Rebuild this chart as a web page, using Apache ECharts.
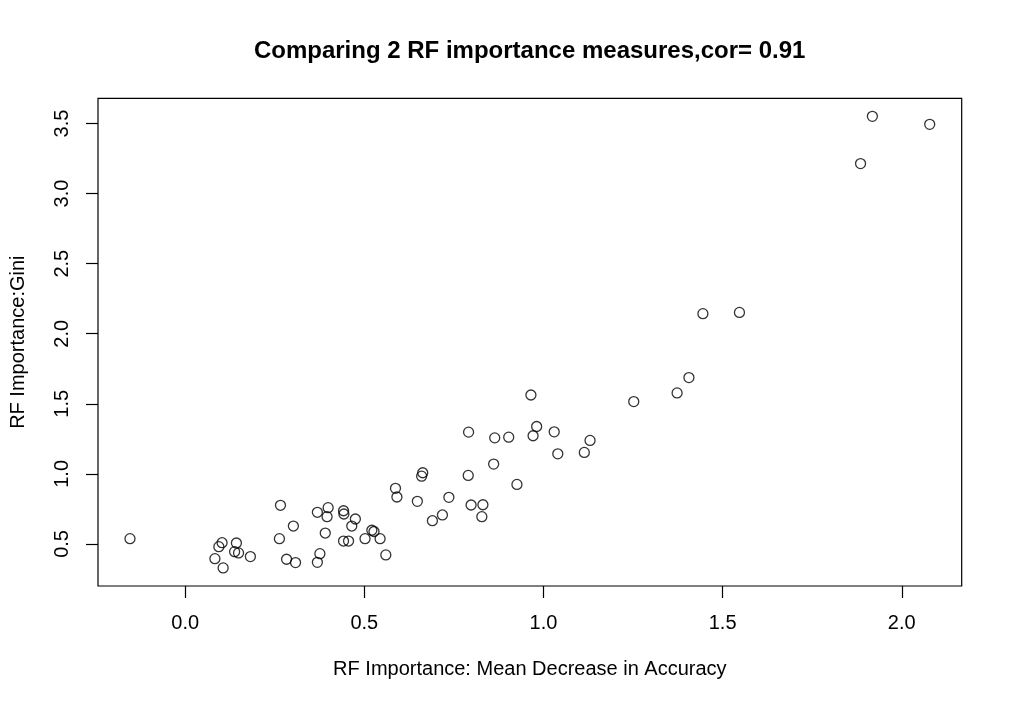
<!DOCTYPE html>
<html>
<head>
<meta charset="utf-8">
<script src="https://cdn.jsdelivr.net/npm/echarts@6/dist/echarts.min.js"></script>
<style>
html,body{margin:0;padding:0;background:#fff;}
#chart{width:1012px;height:709px;}
</style>
</head>
<body>
<div id="chart"></div>
<script>
const chartTitle = "Comparing 2 RF importance measures,cor= 0.91";
const xTitle = "RF Importance: Mean Decrease in Accuracy";
const yTitle = "RF Importance:Gini";
const xTicks = [0, 0.5, 1.0, 1.5, 2.0];
const yTicks = [0.5, 1.0, 1.5, 2.0, 2.5, 3.0, 3.5];
const accuracy = [-0.154,0.103,0.094,0.083,0.106,0.143,0.138,0.149,0.182,0.266,0.263,0.283,0.308,0.302,0.369,0.399,0.396,0.391,0.376,0.369,0.442,0.443,0.475,0.465,0.442,0.456,0.502,0.521,0.527,0.544,0.560,0.587,0.591,0.648,0.663,0.660,0.690,0.718,0.736,0.791,0.790,0.798,0.831,0.828,0.864,0.903,0.861,0.926,0.965,0.981,0.971,1.030,1.040,1.114,1.130,1.252,1.373,1.406,1.445,1.547,1.885,1.918,2.078];
const gini = [0.538,0.509,0.481,0.395,0.329,0.507,0.445,0.436,0.410,0.776,0.538,0.391,0.367,0.628,0.726,0.759,0.695,0.578,0.431,0.369,0.737,0.714,0.678,0.628,0.521,0.521,0.538,0.598,0.589,0.538,0.422,0.897,0.835,0.804,1.008,0.984,0.666,0.707,0.833,1.298,0.989,0.778,0.780,0.695,1.257,1.262,1.070,0.925,1.563,1.338,1.272,1.300,1.143,1.153,1.239,1.516,1.578,1.687,2.143,2.152,3.214,3.551,3.494];

const pts = accuracy.map((x, i) => [x, gini[i]]);
function rng(a){const mn=Math.min(...a),mx=Math.max(...a),d=(mx-mn)*0.04;return [mn-d,mx+d];}
const xr = rng(accuracy), yr = rng(gini);
const FONT = "'Liberation Sans', Arial, sans-serif";

const chart = echarts.init(document.getElementById('chart'), null, {renderer:'canvas'});
const gridL = 97.7, gridR = 50.3, gridT = 98.3, gridB = 123;
chart.setOption({
  animation:false,
  backgroundColor:'#fff',
  grid:{left:gridL,right:gridR,top:gridT,bottom:gridB,show:true,borderColor:'#000',borderWidth:1.2,backgroundColor:'transparent'},
  graphic:[{
    type:'text', x:(gridL + 1012 - gridR)/2, y:51,
    style:{text:chartTitle, font:"bold 24px "+FONT, fill:'#000', textAlign:'center', textVerticalAlign:'middle'}
  }],
  xAxis:{
    type:'value', min:xr[0], max:xr[1],
    name:xTitle, nameLocation:'middle', nameGap:73,
    nameTextStyle:{fontFamily:FONT,fontSize:20,color:'#000'},
    axisLine:{show:false,onZero:false},
    splitLine:{show:false},
    axisTick:{show:true,length:12,inside:false,customValues:xTicks,lineStyle:{color:'#000',width:1.2}},
    axisLabel:{show:true,customValues:xTicks,margin:27,fontFamily:FONT,fontSize:20,color:'#000',formatter:v=>v.toFixed(1)}
  },
  yAxis:{
    type:'value', min:yr[0], max:yr[1],
    name:yTitle, nameLocation:'middle', nameGap:70, nameRotate:90,
    nameTextStyle:{fontFamily:FONT,fontSize:20,color:'#000'},
    axisLine:{show:false,onZero:false},
    splitLine:{show:false},
    axisTick:{show:true,length:12,inside:false,customValues:yTicks,lineStyle:{color:'#000',width:1.2}},
    axisLabel:{show:true,customValues:yTicks,rotate:90,margin:26,fontFamily:FONT,fontSize:20,color:'#000',formatter:v=>v.toFixed(1)}
  },
  series:[{
    type:'scatter', data:pts, symbol:'circle', symbolSize:10,
    itemStyle:{color:'rgba(0,0,0,0)',borderColor:'#000',borderWidth:1.3},
    emphasis:{disabled:true}
  }]
});
</script>
</body>
</html>
